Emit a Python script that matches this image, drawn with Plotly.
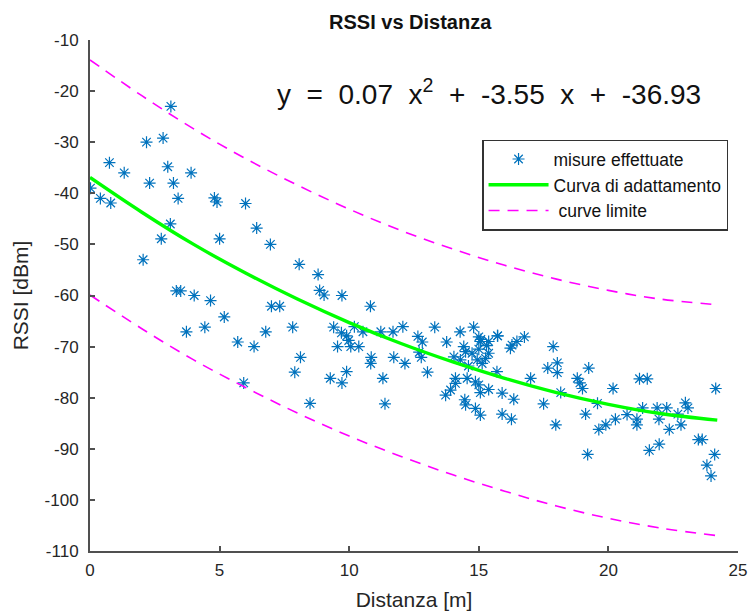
import plotly.graph_objects as go

# measured points (Distanza [m], RSSI [dBm])
dist = [3.12, 2.18, 2.82, 0.75, 1.32, 3.0, 3.9, 2.3, 3.22, 0.02, 0.4, 0.8, 3.4, 4.8, 4.9, 6.0,
        3.1, 2.75, 5.0, 6.43, 6.96, 2.05, 8.07, 8.8, 8.86, 9.03, 9.72, 10.82, 3.33, 3.5, 4.02,
        4.65, 5.18, 7.0, 7.32, 3.72, 4.43, 5.7, 6.33, 6.78, 7.82, 5.93, 8.12, 7.9, 8.49, 9.4,
        9.7, 9.9, 9.98, 9.55, 10.06, 10.37, 10.2, 10.53, 11.22, 11.69, 12.07, 9.27, 9.72, 9.9,
        10.85, 10.83, 11.72, 12.15, 11.3, 11.38, 12.65, 12.82, 12.7, 12.78, 13.02, 13.3, 13.76,
        14.28, 14.8, 15.0, 15.06, 15.38, 15.3, 15.72, 16.28, 16.47, 16.76, 16.22,
        14.42, 14.49, 14.04, 14.29, 14.74, 14.94, 15.26, 15.38, 15.13, 14.6, 15.0, 15.7,
        14.1, 14.1, 14.55, 14.87, 15.0, 13.91, 13.72, 15.06, 15.38, 14.46, 14.49, 15.9, 16.35,
        14.87, 15.06, 15.9, 16.26, 17.0, 17.5, 17.87, 17.66, 18.03, 18.03, 18.16, 17.97,
        18.8, 18.9, 19.0, 19.24, 19.12, 19.58, 19.2, 19.63, 19.9, 20.27, 20.18, 20.72, 21.1,
        21.1, 21.2, 21.5, 21.32, 21.58, 21.96, 21.88, 22.25, 21.95, 22.35, 22.68, 22.97,
        23.07, 22.8, 23.47, 23.62, 24.1, 23.8, 23.96, 24.14, 15.08, 15.73]
rssi = [-23.0, -30.0, -29.2, -34.0, -36.0, -34.8, -36.0, -38.0, -38.0, -39.0, -41.0, -41.9,
        -41.0, -40.9, -41.7, -42.0, -46.0, -48.9, -48.9, -46.8, -50.0, -53.0, -53.9, -55.9,
        -59.0, -59.9, -60.0, -62.1, -59.1, -59.1, -60.0, -61.0, -64.2, -62.1, -62.1, -67.1,
        -66.2, -69.1, -70.0, -67.1, -66.2, -77.1, -72.1, -75.0, -81.1, -66.2, -67.3, -67.9,
        -68.8, -70.0, -70.0, -70.0, -66.1, -67.1, -67.1, -67.1, -66.1, -76.2, -77.1, -74.9,
        -72.1, -73.3, -72.1, -73.3, -76.2, -81.2, -68.0, -69.1, -71.1, -72.1, -75.0, -66.2,
        -69.1, -67.1, -66.2, -68.1, -69.0, -69.0, -69.8, -67.9, -69.7, -69.0, -68.1, -70.3,
        -70.0, -71.0, -72.0, -72.6, -71.3, -72.6, -72.3, -71.3, -73.3, -73.8, -70.5, -74.9,
        -76.2, -77.2, -76.2, -76.9, -77.5, -78.5, -79.5, -79.0, -78.4, -80.4, -81.4, -79.1,
        -80.3, -82.1, -83.4, -83.2, -84.2, -76.2, -81.2, -70.0, -74.2, -73.2, -75.1, -79.0,
        -85.3, -76.2, -77.1, -78.2, -74.2, -83.2, -81.1, -91.1, -86.2, -85.3, -84.2, -78.2,
        -83.3, -84.2, -85.3, -76.3, -76.3, -82.0, -90.3, -89.1, -82.0, -82.0, -84.2, -86.2,
        -83.2, -81.0, -82.0, -85.3, -88.2, -88.2, -91.1, -93.2, -95.3, -78.2, -68.6, -67.9]

# fitted curve and limit curves
fit_x = [0, 2, 4, 6, 8, 10, 12, 14, 16, 18, 20, 22, 24.2]
fit_y = [-36.9, -43.7, -50.0, -55.6, -60.7, -65.3, -69.4, -73.0, -76.2, -79.0, -81.3, -83.1, -84.4]
upper_y = [-13.9, -20.9, -27.4, -33.2, -38.4, -43.1, -47.3, -50.9, -54.1, -56.8, -59.0, -60.7, -61.8]
lower_y = [-59.9, -66.5, -72.6, -78.0, -83.0, -87.5, -91.5, -95.1, -98.3, -101.2, -103.6, -105.5, -107.0]

x_ticks = [0, 5, 10, 15, 20, 25]
x_labels = ["0", "5", "10", "15", "20", "25"]
y_ticks = [-110, -100, -90, -80, -70, -60, -50, -40, -30, -20, -10]
y_labels = ["-110", "-100", "-90", "-80", "-70", "-60", "-50", "-40", "-30", "-20", "-10"]

FONT = "Liberation Sans, Arial, sans-serif"
AX = "#262626"

fig = go.Figure()
fig.add_trace(go.Scatter(
    x=dist, y=rssi, mode="markers", name="misure effettuate",
    marker=dict(symbol="asterisk-open", size=10, color="#0072BD",
                line=dict(color="#0072BD", width=1.2))))
fig.add_trace(go.Scatter(
    x=fit_x, y=fit_y, mode="lines", name="Curva di adattamento",
    line=dict(color="#00FF00", width=3.4, shape="spline")))
fig.add_trace(go.Scatter(
    x=fit_x + [None] + fit_x, y=upper_y + [None] + lower_y, mode="lines",
    name=" curve limite", connectgaps=False,
    line=dict(color="#FF00FF", width=1.6, dash="11px,8px", shape="spline")))

fig.update_layout(
    width=754, height=615,
    margin=dict(l=90, r=16, t=40, b=64),
    paper_bgcolor="white", plot_bgcolor="white",
    font=dict(family=FONT, color=AX, size=17),
    title=dict(text="<b>RSSI vs Distanza</b>", x=0.544, xanchor="center",
               y=0.965, yanchor="middle", font=dict(size=20, color="#111111")),
    showlegend=True,
    legend=dict(x=0.605, y=0.805, xanchor="left", yanchor="top",
                bordercolor="#333333", borderwidth=1.5, bgcolor="white",
                font=dict(size=17.5, color="#111111"), itemwidth=60,
                traceorder="normal"),
    annotations=[dict(
        x=7.12, y=-20.2, xref="x", yref="y", xanchor="left", yanchor="middle",
        text="y  =  0.07  x<sup>2</sup>  +  -3.55  x  +  -36.93",
        showarrow=False, font=dict(size=28, color="#111111", family=FONT))],
)
fig.update_xaxes(
    range=[0, 25], tickvals=x_ticks, ticktext=x_labels, ticks="inside", ticklen=5,
    tickwidth=1.5, tickcolor="#505050", showline=True, linecolor="#505050", linewidth=2,
    showgrid=False, zeroline=False, mirror=False, automargin=False,
    tickfont=dict(size=17, color=AX), ticklabelstandoff=3,
    title=dict(text="Distanza [m]", font=dict(size=21, color=AX), standoff=13))
fig.update_yaxes(
    range=[-110, -10], tickvals=y_ticks, ticktext=y_labels, ticks="inside", ticklen=5,
    tickwidth=1.5, tickcolor="#505050", showline=True, linecolor="#505050", linewidth=2,
    showgrid=False, zeroline=False, mirror=False, automargin=False,
    tickfont=dict(size=17, color=AX), ticklabelstandoff=6,
    title=dict(text="RSSI [dBm]", font=dict(size=21, color=AX), standoff=10))

fig.write_html("out.html")
